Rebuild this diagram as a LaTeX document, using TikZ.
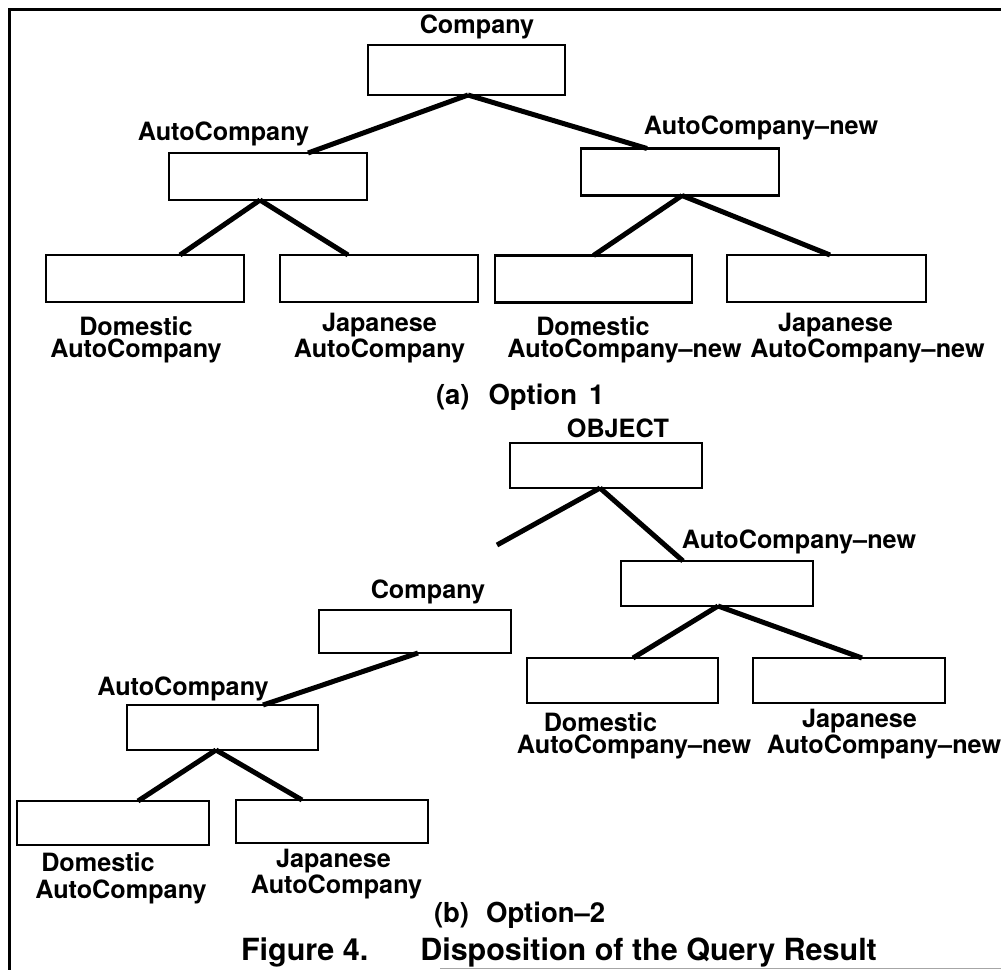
\documentclass[tikz,border=0pt]{standalone}
\usepackage{fontspec}
\setmainfont{TeX Gyre Heros}
\usetikzlibrary{calc}

\tikzset{
  cls/.style={draw, line width=2.6pt, minimum width=#1, minimum height=47pt,
              inner sep=0pt, outer sep=0pt, fill=white},
  cls/.default=196pt,
  link/.style={line width=5pt, line cap=butt},
  lbl/.style={anchor=base, inner sep=0pt, outer sep=0pt,
              font=\fontsize{25.2}{22}\selectfont\bfseries},
  pair/.style={lbl, align=center},
  subcaption/.style={anchor=base west, inner sep=0pt, outer sep=0pt,
              font=\fontsize{27.5}{32}\selectfont\bfseries},
  figcaption/.style={anchor=base west, inner sep=0pt, outer sep=0pt,
                font=\fontsize{30.5}{36}\selectfont\bfseries},
  outline/.style={line width=3pt}
}

\begin{document}
\begin{tikzpicture}[x=1pt, y=-1pt]
\useasboundingbox (0,0) rectangle (1001,970);

% outer frame (open on the right)
\coordinate (fTL) at (9,9);
\coordinate (fTR) at (1001,9);
\coordinate (fBL) at (9,970);
\draw[outline] (fTR) -- (fTL) -- (fBL);
\coordinate (bL) at (440,968);
\coordinate (bR) at (1001,968);
\draw[line width=1pt, black!35] (bL) -- (bR);

% ---------------- (a) Option 1 ----------------
\node[cls=197pt, minimum height=50pt] (coA)  at (466.5,70)   {};
\node[cls=198pt] (acA)  at (268,176.5)  {};
\node[cls=198pt] (acnA) at (680,172)    {};
\node[cls=198pt] (domA) at (145,278.5)  {};
\node[cls=198pt] (japA) at (379,278.5)  {};
\node[cls=197pt] (dnA)  at (593.5,279)  {};
\node[cls=199pt] (jnA)  at (826.5,278.5){};

\draw[link] ([xshift=1.5pt]coA.south) -- ([xshift=40pt]acA.north);
\draw[link] ([xshift=1.5pt]coA.south) -- ([xshift=-33pt]acnA.north);
\draw[link] ([xshift=-8pt]acA.south) -- ([xshift=35pt]domA.north);
\draw[link] ([xshift=-8pt]acA.south) -- ([xshift=-31pt]japA.north);
\draw[link] ([xshift=2pt]acnA.south) -- ([xshift=0pt]dnA.north);
\draw[link] ([xshift=2pt]acnA.south) -- ([xshift=3.5pt]jnA.north);

\node[lbl] (tCoA)  at (477,33)   {Company};
\node[lbl] (tAcA)  at (223.5,140){AutoCompany};
\node[lbl] (tAcnA) at (761,134)  {AutoCompany–new};
% two-line labels: the base anchor sits on the second line
\node[pair] (tDomA) at (136,357)   {Domestic\\AutoCompany};
\node[pair] (tJapA) at (379.5,357) {Japanese\\AutoCompany};
\node[pair] (tDnA)  at (624.5,357) {Domestic\hspace*{63pt}\\AutoCompany–new};
\node[pair] (tJnA)  at (867.5,357) {Japanese\hspace*{64pt}\\AutoCompany–new};

\node[subcaption] (capA) at (436,404) {(a)\hspace{19pt}Option\hspace{12pt}1};

% ---------------- (b) Option-2 ----------------
\node[cls=192pt, minimum height=45pt] (obB)  at (606,465.5) {};
\node[cls=192pt, minimum height=45pt] (acnB) at (717,583.5) {};
\node[cls=191pt, minimum height=45pt] (dnB)  at (622.5,680.5) {};
\node[cls=192pt, minimum height=45pt] (jnB)  at (849,680.5) {};
\node[cls=192pt, minimum height=43pt] (coB)  at (415,631.5) {};
\node[cls=191pt, minimum height=45pt] (acB)  at (222.5,727.5) {};
\node[cls=192pt, minimum height=44pt] (domB) at (113,823) {};
\node[cls=192pt, minimum height=43pt] (japB) at (332,821.5) {};

\coordinate (loose) at (497,545);
\draw[link] ([xshift=-6pt]obB.south) -- (loose);
\draw[link] ([xshift=-6pt]obB.south) -- ([xshift=-34pt]acnB.north);
\draw[link] ([xshift=1pt]acnB.south) -- ([xshift=10.5pt]dnB.north);
\draw[link] ([xshift=1pt]acnB.south) -- ([xshift=13pt]jnB.north);
\draw[link] ([xshift=3pt]coB.south) -- ([xshift=40.5pt]acB.north);
\draw[link] ([xshift=-6.5pt]acB.south) -- ([xshift=25pt]domB.north);
\draw[link] ([xshift=-6.5pt]acB.south) -- ([xshift=-30pt]japB.north);

\node[lbl] (tObB)  at (618,437)  {OBJECT};
\node[lbl] (tAcnB) at (799,548)  {AutoCompany–new};
\node[pair] (tDnB) at (634,753)  {Domestic\hspace*{67pt}\\AutoCompany–new};
\node[pair] (tJnB) at (884,753)  {Japanese\hspace*{49pt}\\AutoCompany–new};
\node[lbl] (tCoB)  at (428,598)  {Company};
\node[lbl] (tAcB)  at (183,695)  {AutoCompany};
\node[pair, font=\fontsize{25.2}{27}\selectfont\bfseries]
           (tDomB) at (121,898)  {Domestic\hspace*{46pt}\\AutoCompany};
\node[pair] (tJapB) at (336.5,893) {Japanese\hspace*{6pt}\\AutoCompany};

\node[subcaption] (capB) at (434,922) {(b)\hspace{17pt}Option–2};

\node[figcaption] (fig) at (241,960) {Figure 4.\hspace{52pt}Disposition of the Query Result};
\end{tikzpicture}
\end{document}
